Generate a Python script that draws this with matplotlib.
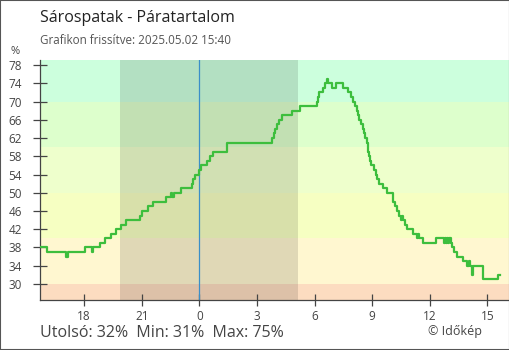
import matplotlib.pyplot as plt
from matplotlib.patches import Rectangle

plt.rcParams['font.family'] = ['Open Sans', 'DejaVu Sans']

# hours relative to midnight (negative = previous day), humidity in %
times = [-8.30, -7.92, -6.93, -6.86, -5.97, -5.59, -5.54, -5.16, -4.90, -4.61,
         -4.35, -4.06, -3.80, -3.09, -2.98, -2.66, -2.40, -1.75, -1.49, -1.42,
         -1.30, -0.97, -0.40, -0.31, -0.22, 0.00, 0.09, 0.39, 0.56, 0.73,
         1.46, 3.77, 3.89, 3.94, 4.06, 4.17, 4.32, 4.81, 5.24, 6.11,
         6.17, 6.22, 6.43, 6.55, 6.63, 6.72, 6.93, 7.10, 7.50, 7.76,
         7.89, 8.02, 8.11, 8.19, 8.27, 8.34, 8.42, 8.50, 8.58, 8.63,
         8.71, 8.77, 8.80, 8.82, 8.89, 8.93, 9.11, 9.19, 9.24, 9.36,
         9.58, 9.76, 10.07, 10.11, 10.19, 10.30, 10.42, 10.49, 10.56, 10.61,
         10.70, 10.81, 11.11, 11.32, 11.39, 11.44, 11.66, 12.31, 12.76, 12.80,
         12.85, 12.90, 12.97, 13.02, 13.11, 13.18, 13.25, 13.44, 13.72, 13.96,
         14.05, 14.09, 14.20, 14.25, 14.78, 15.50, 15.54, 15.67]
values = [38, 37, 36, 37, 38, 37, 38, 39, 40, 41,
          42, 43, 44, 45, 46, 47, 48, 49, 50, 49,
          50, 51, 52, 53, 54, 55, 56, 57, 58, 59,
          61, 62, 63, 64, 65, 66, 67, 68, 69, 70,
          71, 72, 73, 74, 75, 74, 73, 74, 73, 72,
          71, 70, 69, 68, 67, 66, 65, 64, 63, 62,
          61, 60, 59, 58, 57, 56, 55, 54, 53, 52,
          51, 50, 49, 48, 47, 46, 45, 44, 45, 44,
          43, 42, 41, 40, 41, 40, 39, 40, 39, 40,
          39, 40, 39, 40, 39, 38, 37, 36, 35, 34,
          35, 34, 32, 34, 31, 31, 32, 32]

band_edges = [0, 30, 40, 50, 60, 70, 100]
band_colors = ['#fcdcc0', '#fff7d0', '#f6ffc2', '#eeffcc', '#ddffcc', '#ccffdd']
night = (-4.13, 5.12)

yticks = list(range(30, 79, 4))
xticks = [-6, -3, 0, 3, 6, 9, 12, 15]
xlabels = ['18', '21', '0', '3', '6', '9', '12', '15']

fig = plt.figure(figsize=(5.1, 3.5), dpi=100)
ax = fig.add_axes([40 / 510, 50 / 350, 470 / 510, 240 / 350])

for lo, hi, c in zip(band_edges[:-1], band_edges[1:], band_colors):
    ax.axhspan(lo, hi, color=c, lw=0, zorder=0)
ax.axvspan(night[0], night[1], color='black', alpha=0.12, lw=0, zorder=1)
ax.axvline(0, color='#3a8fc8', lw=0.9, zorder=2)

ax.plot(times, values, drawstyle='steps-post', color='#3dbe3d', lw=1.6, zorder=3)

ax.set_xlim(-8.30, 16.18)
ax.set_ylim(26.49, 79.1)
ax.set_yticks(yticks)
ax.set_xticks(xticks)
ax.set_xticklabels(xlabels)

for s in ['top', 'right']:
    ax.spines[s].set_visible(False)
for s in ['left', 'bottom']:
    ax.spines[s].set_color('#444444')
    ax.spines[s].set_linewidth(0.9)

ax.tick_params(axis='y', direction='inout', length=10, width=0.9, color='#444444',
               labelsize=8.5, labelcolor='#444444', pad=8)
ax.tick_params(axis='x', direction='inout', length=9, width=0.9, color='#444444',
               labelsize=8.5, labelcolor='#444444', pad=3)

fig.text(40 / 510, 1 - 18 / 350, 'Sárospatak - Páratartalom', fontsize=11.5,
         color='#222222', va='center', ha='left')
fig.text(40 / 510, 1 - 41 / 350, 'Grafikon frissítve: 2025.05.02 15:40', fontsize=8.4,
         color='#555555', va='center', ha='left')
fig.text(15 / 510, 1 - 52 / 350, '%', fontsize=8, color='#444444', va='center', ha='center')
fig.text(40 / 510, 1 - 333 / 350, 'Utolsó: 32%  Min: 31%  Max: 75%', fontsize=11.5,
         color='#444444', va='center', ha='left')
fig.text(482 / 510, 1 - 332 / 350, '© Időkép', fontsize=9,
         color='#444444', va='center', ha='right')

fig.patches.append(Rectangle((0, 0), 1, 1, transform=fig.transFigure, fill=False,
                             edgecolor='#555555', lw=1.5, zorder=10))

fig.savefig('out.png', dpi=100)
